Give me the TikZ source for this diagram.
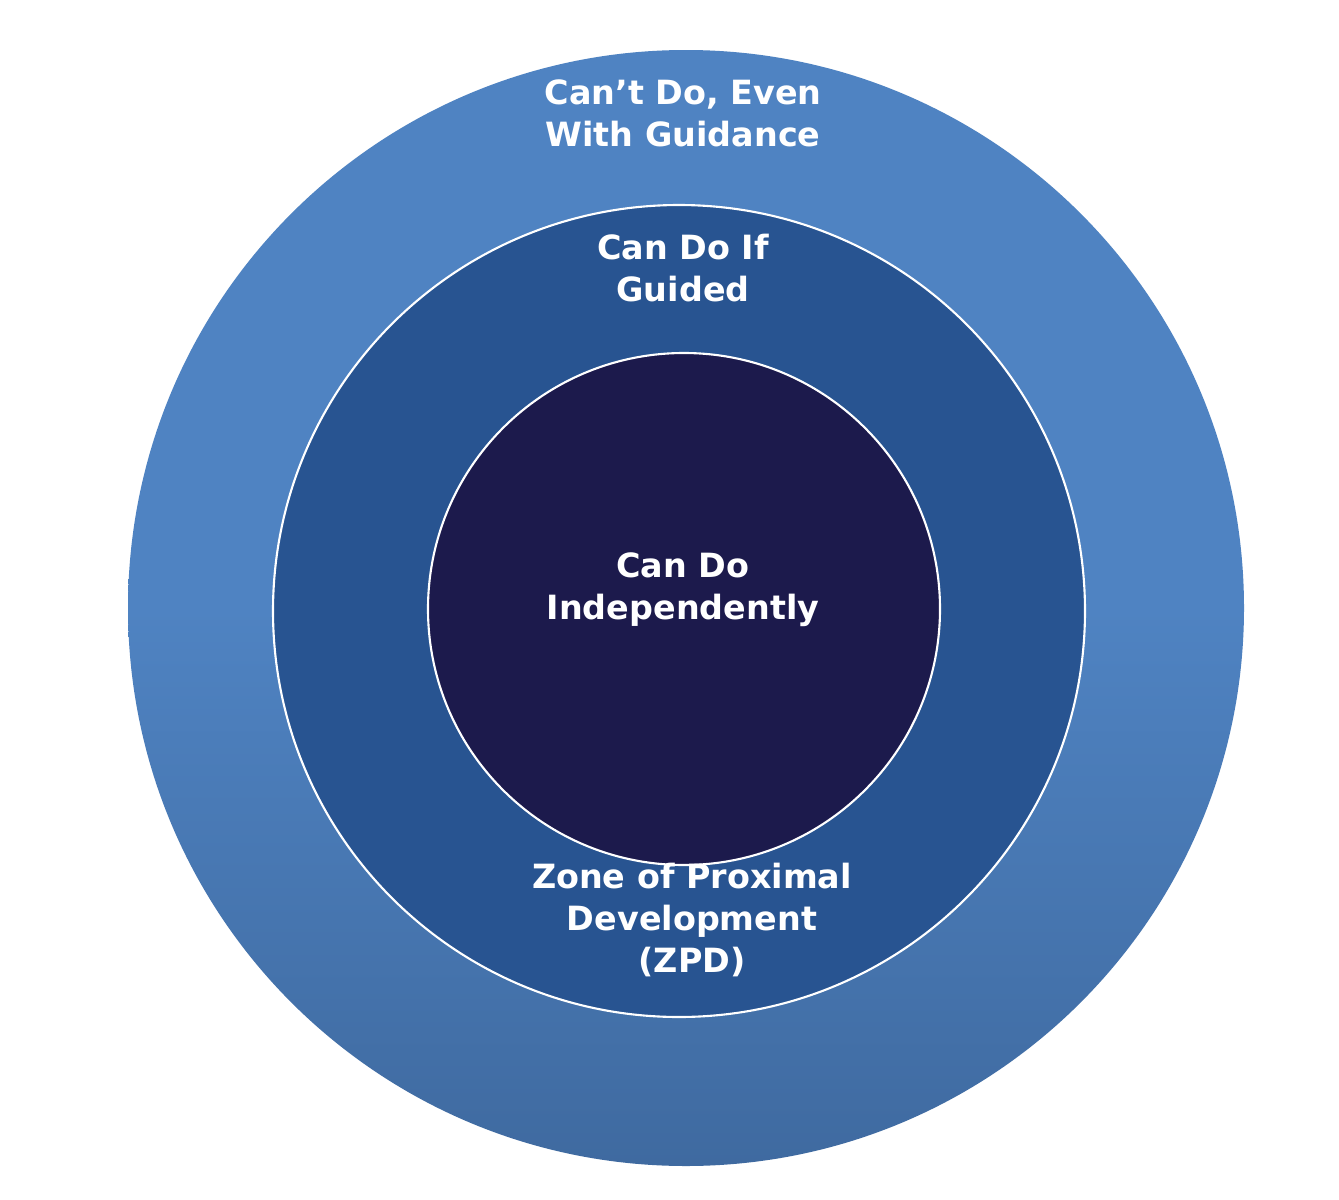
\documentclass[tikz,border=0pt]{standalone}
\usepackage{fontspec}
\setmainfont{DejaVu Sans}
\definecolor{outerc}{HTML}{4F83C2}
\definecolor{outerd}{HTML}{3F6AA0}
\definecolor{midc}{HTML}{285491}
\definecolor{innc}{HTML}{1C1A4C}
\tikzset{lbl/.style={text=white,font=\bfseries\fontsize{19}{24}\selectfont,align=center}}
\begin{document}
\begin{tikzpicture}[x=0.02cm,y=-0.02cm]
\useasboundingbox (0,0) rectangle (1339,1200);
\fill[white] (0,0) rectangle (1339,1200);
\shade[top color=outerc,bottom color=outerd,middle color=outerc] (686,608) circle (558);
\node[circle,minimum size=812*0.02cm,fill=midc,draw=white,line width=1.2pt] (mid) at (679,611) {};
\node[circle,minimum size=512*0.02cm,fill=innc,draw=white,line width=1.2pt] (inn) at (684,609) {};
\node[lbl] (t1) at (683,113) {Can’t Do, Even\\With Guidance};
\node[lbl] (t2) at (683,268) {Can Do If\\Guided};
\node[lbl] (t3) at (683,590) {Can Do\\Independently};
\node[lbl] (t4) at (692,920) {Zone of Proximal\\Development\\(ZPD)};
\end{tikzpicture}
\end{document}
